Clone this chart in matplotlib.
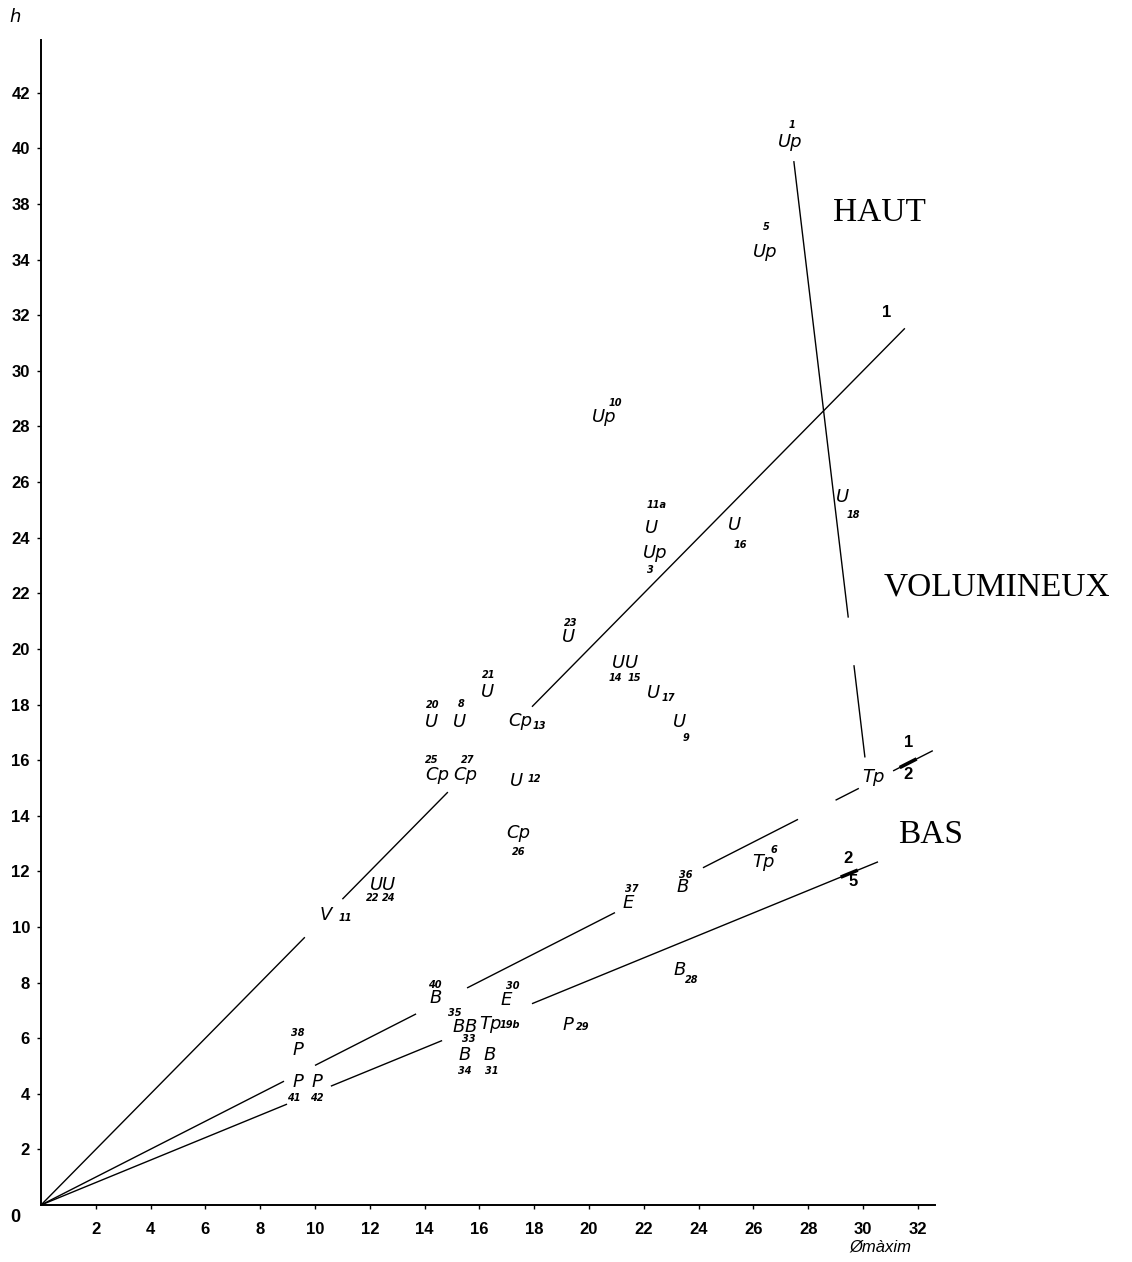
import numpy as np
import matplotlib.pyplot as plt

# --- dades: etiqueta, numero de peça, diametre maxim, alcada ---
codis = ['Up', 'Up', 'Up', 'U', 'Up', 'U', 'U', 'U', 'U', 'U', 'U', 'U',
         'U', 'U', 'U', 'Cp', 'Cp', 'Cp', 'U', 'Cp', 'U', 'U', 'V', 'E',
         'B', 'Tp', 'Tp', 'B', 'B', 'E', 'B', 'B', 'Tp', 'P', 'B', 'B',
         'P', 'P', 'P']
numeros = ['1', '5', '10', '11a', '3', '16', '18', '23', '14', '15', '17', '9',
           '21', '20', '8', '13', '25', '27', '12', '26', '22', '24', '11', '37',
           '36', '6', '', '28', '40', '30', '35', '33', '19b', '29', '34', '31',
           '38', '41', '42']
diametre = [27.33, 26.42, 20.55, 22.30, 22.41, 25.33, 29.27, 19.27, 21.09, 21.56,
            22.34, 23.32, 16.31, 14.27, 15.29, 17.48, 14.45, 15.47, 17.34, 17.41,
            12.23, 12.70, 10.40, 21.42, 23.43, 26.35, 30.40, 23.32, 14.42, 16.97,
            15.26, 15.69, 16.39, 19.23, 15.47, 16.39, 9.38, 9.38, 10.07]
alcada = [38.24, 34.28, 28.35, 24.35, 23.45, 24.46, 25.47, 20.43, 19.50, 19.50,
          18.42, 17.37, 18.45, 17.37, 17.37, 17.41, 15.47, 15.47, 15.25, 13.38,
          11.51, 11.51, 10.43, 10.86, 11.44, 12.34, 15.40, 8.45, 7.45, 7.37,
          6.40, 6.40, 6.51, 6.47, 5.40, 5.40, 5.58, 4.42, 4.42]

# rectes que passen per l'origen (pendent) i trams dibuixats (x inicial, x final)
pendents = [1.0, 0.502, 0.404]
trams = [
    [(0, 9.63), (11.0, 14.85), (17.92, 31.53)],
    [(0, 8.87), (10.0, 13.69), (15.55, 20.95), (24.16, 27.63), (29.0, 29.85), (31.1, 32.55)],
    [(0, 8.98), (10.58, 14.64), (17.92, 30.55)],
]
# recta HAUT / VOLUMINEUX: dos punts (diametre, alcada) i trams en alcada
recta_alta = [(27.48, 37.52), (30.07, 16.12)]
trams_alta = [(37.52, 21.15), (19.39, 16.12)]

ytick_pos = [2, 4, 6, 8, 10, 12, 14, 16, 18, 20, 22, 24, 26, 28, 30, 32, 34, 36, 38, 40]
ytick_lab = ['2', '4', '6', '8', '10', '12', '14', '16', '18', '20', '22', '24',
             '26', '28', '30', '32', '34', '38', '40', '42']
xtick_pos = list(range(2, 33, 2))

# desplaçament del numero respecte a la sigla (pixels)
despl = [(2, 17), (1, 25), (11, 14), (5, 23), (-5, -17), (5, -20), (10, -18),
         (2, 14), (-3, -15), (3, -15), (15, -5), (6, -16), (1, 17), (1, 17),
         (1, 18), (19, -5), (-5, 15), (3, 15), (18, 2), (1, -19), (-3, -13),
         (0, -13), (19, -3), (4, 14), (3, 12), (11, 12), (0, 0), (12, -10),
         (-1, 13), (7, 14), (-4, 14), (-2, -12), (20, -1), (15, -2), (0, -16),
         (2, -16), (0, 17), (-4, -16), (0, -16)]

fig = plt.figure(figsize=(11.32, 12.62), dpi=100)
ax = fig.add_axes([41 / 1132, 57 / 1262, 894 / 1132, 1165 / 1262])
ax.set_xlim(0, 32.63)
ax.set_ylim(0, 41.9)

for sp in ['top', 'right']:
    ax.spines[sp].set_visible(False)
for sp in ['left', 'bottom']:
    ax.spines[sp].set_linewidth(1.4)

ax.set_yticks(ytick_pos)
ax.set_yticklabels(ytick_lab)
ax.set_xticks(xtick_pos)
ax.tick_params(axis='y', direction='out', length=3, width=1, pad=5, labelsize=12)
ax.tick_params(axis='x', direction='out', length=3, width=1, pad=9, labelsize=12)
for lab in ax.get_xticklabels() + ax.get_yticklabels():
    lab.set_fontweight('bold')
    lab.set_family('Liberation Sans')

ax.text(-0.75, -0.45, '0', ha='right', va='center', fontsize=13,
        fontweight='bold', family='Liberation Sans')

# rectes
for m, segs in zip(pendents, trams):
    for x0, x1 in segs:
        xs = np.array([x0, x1])
        ax.plot(xs, m * xs, color='black', lw=1.0, solid_capstyle='butt')

(xa, ya), (xb, yb) = recta_alta
k = (xb - xa) / (yb - ya)
for y0, y1 in trams_alta:
    ys = np.array([y0, y1])
    ax.plot(xa + k * (ys - ya), ys, color='black', lw=1.0)

# petites marques on es tallen les etiquetes 1/2 i 2/5
for m, xc in [(pendents[1], 31.65), (pendents[2], 29.5)]:
    xs = np.array([xc - 0.25, xc + 0.25])
    ax.plot(xs, m * xs, color='black', lw=2.6)

for x, y, t in [(30.88, 32.1, '1'), (31.65, 16.65, '1'), (31.65, 15.50, '2'),
                (29.45, 12.45, '2'), (29.65, 11.65, '5')]:
    ax.text(x, y, t, ha='center', va='center', fontsize=12, fontweight='bold',
            family='Liberation Sans')

# sigles i numeros
for c, n, x, y, d in zip(codis, numeros, diametre, alcada, despl):
    ax.text(x, y, c, ha='center', va='center', fontsize=13, style='italic',
            family='DejaVu Sans')
    if n:
        ax.annotate(n, (x, y), xytext=d, textcoords='offset pixels',
                    ha='center', va='center', fontsize=7, fontweight='bold',
                    style='italic')

# zones
ax.text(30.62, 35.68, 'HAUT', ha='center', va='center', fontsize=24,
        family='Liberation Serif', clip_on=False)
ax.text(34.9, 22.2, 'VOLUMINEUX', ha='center', va='center', fontsize=24,
        family='Liberation Serif', clip_on=False)
ax.text(32.48, 13.31, 'BAS', ha='center', va='center', fontsize=24,
        family='Liberation Serif', clip_on=False)

fig.text(15 / 1132, 1 - 17 / 1262, 'h', ha='center', va='center', fontsize=13,
         style='italic')
fig.text(880 / 1132, 1 - 1247 / 1262, 'Ømàxim', ha='center', va='center',
         fontsize=12, style='italic', family='Liberation Sans')

fig.savefig('out.png', dpi=100)
